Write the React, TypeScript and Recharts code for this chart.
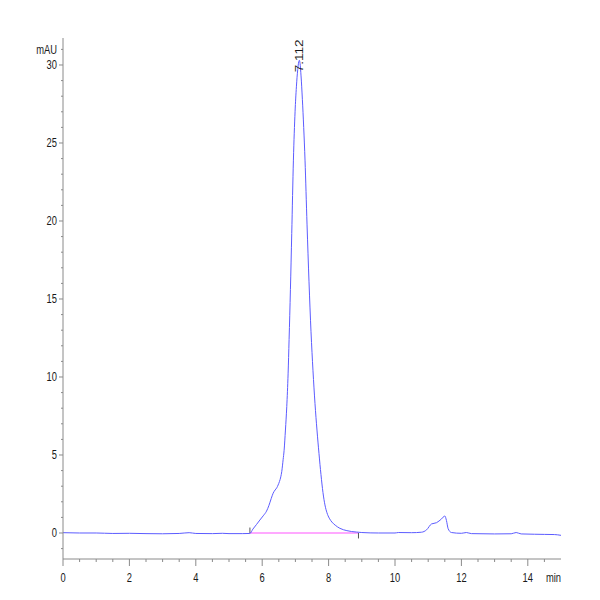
import { Line, LineChart, ReferenceDot, ReferenceLine, XAxis, YAxis } from 'recharts';

// retention time (min) and absorbance (mAU)
const times = [
  0, 0.5, 1, 1.5, 2, 2.5, 3, 3.5, 3.8, 4, 4.5, 4.8, 5, 5.4, 5.63, 5.72, 5.83, 5.93, 6.03, 6.13,
  6.2, 6.27, 6.33, 6.39, 6.44, 6.48, 6.52, 6.56, 6.59, 6.63, 6.66, 6.7, 6.74, 6.78, 6.81, 6.85,
  6.89, 6.94, 6.99, 7.03, 7.07, 7.1, 7.12, 7.14, 7.17, 7.21, 7.25, 7.29, 7.35, 7.41, 7.47, 7.53,
  7.59, 7.65, 7.71, 7.77, 7.83, 7.89, 7.95, 8.02, 8.1, 8.2, 8.34, 8.55, 8.84, 9, 9.5, 10, 10.1,
  10.5, 10.8, 10.95, 11.1, 11.25, 11.4, 11.5, 11.55, 11.6, 11.7, 12, 12.15, 12.3, 13, 13.5, 13.65,
  13.8, 14.2, 14.5, 14.8, 15,
];
const mAU = [
  0.02, 0.0, 0.0, -0.03, -0.02, -0.04, -0.05, -0.03, 0.02, -0.03, -0.04, -0.02, -0.04, -0.04,
  -0.03, 0.25, 0.55, 0.83, 1.1, 1.4, 1.75, 2.2, 2.55, 2.76, 2.9, 3.08, 3.3, 3.6, 3.95, 4.7, 5.3,
  6.6, 8.1, 10.2, 12.4, 15.6, 19.2, 23.9, 27.0, 28.6, 29.7, 30.2, 30.3, 30.1, 29.3, 27.8, 26.0,
  23.9, 19.8, 16.1, 12.9, 10.4, 8.3, 6.6, 5.1, 3.75, 2.6, 1.8, 1.3, 0.95, 0.7, 0.5, 0.3, 0.15,
  0.06, 0.03, 0.0, 0.0, 0.03, 0.02, 0.05, 0.2, 0.58, 0.66, 0.9, 1.09, 0.8, 0.28, 0.03, -0.02,
  0.03, -0.04, -0.06, -0.05, 0.03, -0.06, -0.08, -0.09, -0.1, -0.15,
];

const peakTime = 7.112;
const peakHeight = 30.3;
const integrationStart = 5.63;
const integrationEnd = 8.9;

const xTicks = [
  0, 0.5, 1, 1.5, 2, 2.5, 3, 3.5, 4, 4.5, 5, 5.5, 6, 6.5, 7, 7.5, 8, 8.5, 9, 9.5, 10, 10.5, 11,
  11.5, 12, 12.5, 13, 13.5, 14, 14.5, 15,
];
const yTicks = [
  -1, 0, 1, 2, 3, 4, 5, 6, 7, 8, 9, 10, 11, 12, 13, 14, 15, 16, 17, 18, 19, 20, 21, 22, 23, 24, 25,
  26, 27, 28, 29, 30, 31,
];
const xUnit = 'min';
const yUnit = 'mAU';

const data = times.map((t, i) => ({ t, v: mAU[i] }));

const FONT = '"Liberation Sans", Arial, sans-serif';
const AXIS = '#8a8a8a';
const TEXT = '#1a1a1a';

// condensed label, like the instrument software's narrow font
function Narrow({ x, y, anchor, children }: any) {
  return (
    <text
      transform={`translate(${x},${y}) scale(0.72,1)`}
      textAnchor={anchor}
      fontSize={13}
      fontFamily={FONT}
      fill={TEXT}
    >
      {children}
    </text>
  );
}

function XTick({ x, y, payload }: any) {
  const v = payload.value as number;
  if (v === 15) {
    return (
      <Narrow x={x} y={y + 23} anchor="end">
        {xUnit}
      </Narrow>
    );
  }
  const major = Math.abs(v % 2) < 1e-6;
  return (
    <g>
      <line x1={x} y1={y} x2={x} y2={y + (major ? 7 : 3)} stroke={AXIS} />
      {major ? (
        <Narrow x={x} y={y + 23} anchor="middle">
          {v}
        </Narrow>
      ) : null}
    </g>
  );
}

function YTick({ x, y, payload }: any) {
  const v = payload.value as number;
  if (v === 31) {
    return (
      <g>
        <line x1={x - 2} y1={y} x2={x} y2={y} stroke={AXIS} />
        <Narrow x={x - 6} y={y + 4.5} anchor="end">
          {yUnit}
        </Narrow>
      </g>
    );
  }
  const major = v % 5 === 0;
  return (
    <g>
      <line x1={x - (major ? 4 : 2)} y1={y} x2={x} y2={y} stroke={AXIS} />
      {major ? (
        <Narrow x={x - 6} y={y + 4.5} anchor="end">
          {v}
        </Narrow>
      ) : null}
    </g>
  );
}

function PeakLabel({ cx, cy }: any) {
  const bx = cx + 3.5;
  const by = cy + 12;
  return (
    <text
      x={bx}
      y={by}
      transform={`rotate(-90, ${bx}, ${by})`}
      fontSize={11}
      textLength={33}
      lengthAdjust="spacingAndGlyphs"
      fontFamily={FONT}
      fill={TEXT}
    >
      {peakTime.toFixed(3)}
    </text>
  );
}

export default function App() {
  return (
    <div style={{ position: 'fixed', left: 0, top: 0, width: 600, height: 600, background: '#fff' }}>
      <LineChart
        width={600}
        height={600}
        data={data}
        margin={{ top: 38, right: 39, bottom: 11, left: 3 }}
      >
        <XAxis
          type="number"
          dataKey="t"
          domain={[0, 15]}
          ticks={xTicks}
          interval={0}
          tick={<XTick />}
          tickLine={false}
          tickSize={0}
          tickMargin={0}
          height={30}
          axisLine={{ stroke: AXIS }}
          allowDataOverflow
        />
        <YAxis
          type="number"
          domain={[-1.667, 31.73]}
          ticks={yTicks}
          interval={0}
          tick={<YTick />}
          tickLine={false}
          tickSize={0}
          tickMargin={0}
          width={60}
          axisLine={{ stroke: AXIS }}
          allowDataOverflow
        />
        <ReferenceLine
          segment={[
            { x: integrationStart, y: 0 },
            { x: integrationEnd, y: 0 },
          ]}
          stroke="#ff55ff"
          strokeWidth={1.2}
        />
        <ReferenceLine
          segment={[
            { x: integrationStart, y: 0 },
            { x: integrationStart, y: 0.35 },
          ]}
          stroke="#555"
        />
        <ReferenceLine
          segment={[
            { x: integrationEnd, y: 0 },
            { x: integrationEnd, y: -0.35 },
          ]}
          stroke="#555"
        />
        <Line
          dataKey="v"
          type="monotone"
          stroke="#5c5cff"
          strokeWidth={1}
          dot={false}
          isAnimationActive={false}
        />
        <ReferenceDot x={peakTime} y={peakHeight} r={0} shape={<PeakLabel />} />
      </LineChart>
    </div>
  );
}
